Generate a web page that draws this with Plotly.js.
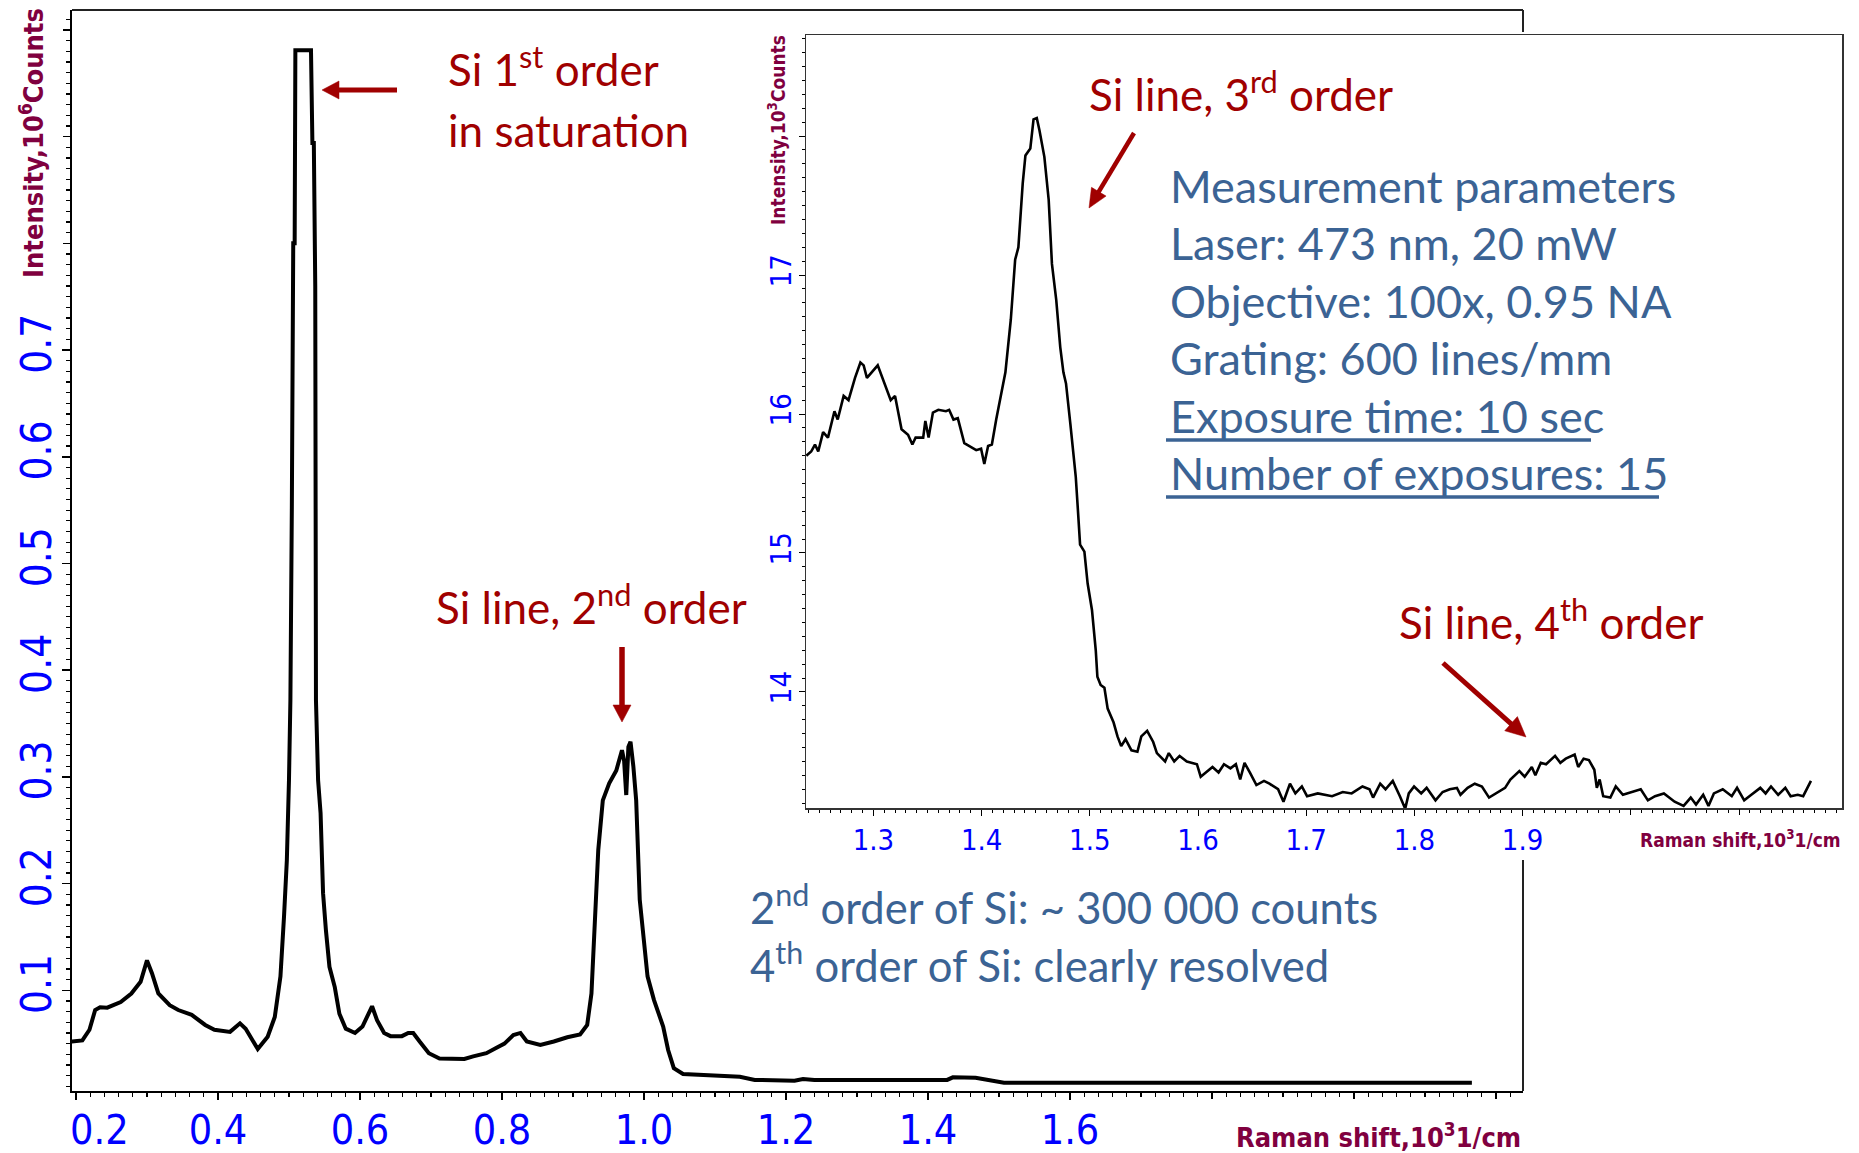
<!DOCTYPE html>
<html>
<head>
<meta charset="utf-8">
<script src="https://cdn.plot.ly/plotly-3.0.1.min.js"></script>
<style>
html,body{margin:0;padding:0;background:#fff;}
#chart{width:1859px;height:1153px;}
</style>
</head>
<body>
<div id="chart"></div>
<script>
// ---------------- DATA ----------------
// Full spectrum (main panel): Raman shift in 10^3 1/cm, intensity in 10^6 counts
const mainShift = [0.194,0.209,0.219,0.227,0.234,0.244,0.263,0.278,0.291,0.300,0.307,0.316,0.332,0.344,0.363,0.382,0.395,0.417,0.431,0.439,0.456,0.470,0.480,0.488,0.493,0.497,0.500,0.502,0.504,0.505,0.506,0.508,0.509,0.531,0.533,0.535,0.536,0.537,0.538,0.541,0.5445,0.548,0.552,0.557,0.5645,0.571,0.580,0.593,0.6035,0.610,0.617,0.624,0.634,0.643,0.659,0.668,0.675,0.684,0.697,0.712,0.747,0.7595,0.778,0.791,0.8035,0.816,0.826,0.835,0.854,0.873,0.892,0.910,0.920,0.926,0.931,0.9356,0.942,0.951,0.961,0.969,0.972,0.975,0.978,0.981,0.985,0.989,0.994,0.9985,1.005,1.014,1.027,1.034,1.042,1.055,1.079,1.135,1.156,1.212,1.224,1.240,1.427,1.435,1.467,1.491,1.507,2.166];
const mainIntensity = [0.052,0.053,0.063,0.0815,0.084,0.0837,0.089,0.097,0.108,0.128,0.116,0.097,0.086,0.0815,0.077,0.0675,0.063,0.061,0.069,0.064,0.045,0.0565,0.075,0.113,0.169,0.222,0.297,0.372,0.55,0.653,0.80,0.80,0.981,0.981,0.894,0.894,0.76,0.76,0.372,0.297,0.266,0.191,0.1565,0.122,0.103,0.078,0.064,0.060,0.066,0.075,0.085,0.072,0.060,0.057,0.057,0.060,0.060,0.052,0.041,0.036,0.0356,0.038,0.041,0.0456,0.050,0.058,0.060,0.052,0.0487,0.052,0.056,0.0587,0.0675,0.097,0.169,0.2315,0.278,0.294,0.306,0.325,0.315,0.283,0.328,0.333,0.310,0.278,0.185,0.153,0.113,0.091,0.066,0.044,0.027,0.0216,0.0206,0.019,0.016,0.0153,0.0169,0.016,0.016,0.0184,0.018,0.0153,0.0134,0.0134];

// Inset (zoom): Raman shift in 10^3 1/cm, intensity in 10^3 counts
const insetShift = [1.238,1.2425,1.246,1.249,1.2535,1.258,1.264,1.267,1.2725,1.277,1.283,1.288,1.291,1.294,1.304,1.310,1.316,1.320,1.326,1.332,1.336,1.339,1.346,1.348,1.351,1.355,1.360,1.367,1.370,1.374,1.378,1.384,1.3905,1.395,1.3995,1.4025,1.406,1.4095,1.4135,1.418,1.422,1.427,1.431,1.434,1.438,1.4405,1.445,1.448,1.451,1.4535,1.458,1.462,1.465,1.469,1.4727,1.4756,1.478,1.482,1.487,1.489,1.491,1.495,1.498,1.502,1.5055,1.507,1.510,1.5135,1.5165,1.522,1.5256,1.529,1.533,1.5385,1.544,1.5476,1.553,1.5586,1.562,1.5696,1.573,1.578,1.583,1.5897,1.599,1.6025,1.6134,1.619,1.624,1.630,1.635,1.639,1.643,1.648,1.654,1.661,1.666,1.674,1.679,1.685,1.690,1.696,1.7008,1.7107,1.7239,1.7338,1.742,1.752,1.7585,1.7618,1.7684,1.7733,1.780,1.7866,1.7915,1.7948,1.7997,1.8063,1.8113,1.8195,1.8261,1.8327,1.8393,1.8426,1.8492,1.8558,1.8624,1.869,1.8772,1.8838,1.8887,1.897,1.9019,1.9085,1.9118,1.9168,1.9217,1.930,1.9349,1.9399,1.9481,1.9514,1.9564,1.9613,1.9663,1.9686,1.9712,1.9745,1.9811,1.9861,1.9927,2.001,2.0092,2.0158,2.0224,2.0306,2.0405,2.0488,2.0554,2.0603,2.0669,2.0718,2.0768,2.085,2.0933,2.0982,2.1048,2.1114,2.1197,2.1246,2.1296,2.1362,2.1428,2.1477,2.1543,2.1593,2.1626,2.1665];
const insetIntensity = [15.70,15.73,15.78,15.73,15.87,15.83,16.02,15.96,16.13,16.10,16.26,16.37,16.35,16.26,16.35,16.23,16.10,16.13,15.89,15.85,15.78,15.83,15.83,15.95,15.83,16.01,16.03,16.02,16.03,15.96,15.97,15.79,15.76,15.74,15.75,15.64,15.77,15.78,15.96,16.15,16.30,16.68,17.11,17.20,17.66,17.86,17.91,18.12,18.13,18.04,17.85,17.54,17.08,16.82,16.48,16.30,16.22,15.93,15.55,15.31,15.06,15.01,14.78,14.59,14.30,14.11,14.05,14.03,13.88,13.78,13.68,13.61,13.66,13.58,13.57,13.68,13.72,13.64,13.56,13.50,13.56,13.50,13.54,13.50,13.48,13.39,13.46,13.42,13.48,13.45,13.48,13.37,13.49,13.42,13.33,13.36,13.34,13.30,13.21,13.34,13.27,13.32,13.25,13.27,13.25,13.28,13.27,13.32,13.30,13.24,13.34,13.30,13.36,13.25,13.16,13.27,13.32,13.27,13.31,13.22,13.28,13.30,13.31,13.26,13.31,13.34,13.32,13.24,13.28,13.31,13.37,13.43,13.39,13.46,13.40,13.49,13.48,13.54,13.49,13.52,13.55,13.46,13.52,13.51,13.44,13.31,13.37,13.25,13.24,13.32,13.26,13.28,13.30,13.22,13.25,13.27,13.21,13.18,13.24,13.19,13.26,13.18,13.27,13.30,13.25,13.31,13.22,13.26,13.31,13.27,13.32,13.26,13.31,13.25,13.26,13.25,13.30,13.36];

// Tick values and labels (labelled major ticks, plus unlabelled major ticks)
const mainXTicks = [0.2,0.4,0.6,0.8,1.0,1.2,1.4,1.6];
const mainXLabels = ['0.2','0.4','0.6','0.8','1.0','1.2','1.4','1.6'];
const mainXBareTicks = [1.8,2.0,2.2];
const mainYTicks = [0.1,0.2,0.3,0.4,0.5,0.6,0.7];
const mainYLabels = ['0.1','0.2','0.3','0.4','0.5','0.6','0.7'];
const mainYBareTicks = [0.8,0.9,1.0];
const insetXTicks = [1.3,1.4,1.5,1.6,1.7,1.8,1.9];
const insetXLabels = ['1.3','1.4','1.5','1.6','1.7','1.8','1.9'];
const insetXBareTicks = [2.0,2.1];
const insetYTicks = [14,15,16,17];
const insetYLabels = ['14','15','16','17'];
const insetYBareTicks = [18];

// Texts
const mainYTitle = 'Intensity,10<sup>6</sup>Counts';
const mainXTitle = 'Raman shift,10<sup>3</sup>1/cm';
const insetYTitle = 'Intensity,10<sup>3</sup>Counts';
const insetXTitle = 'Raman shift,10<sup>3</sup>1/cm';
const paramLines = ['Measurement parameters','Laser: 473 nm, 20 mW','Objective: 100x, 0.95 NA','Grating: 600 lines/mm','Exposure time: 10 sec','Number of exposures: 15'];
const noteLines = ['2<sup>nd</sup> order of Si: ~ 300 000 counts','4<sup>th</sup> order of Si: clearly resolved'];

// ---------------- STYLE ----------------
const W = 1859, H = 1153;
const px = x => x / W;
const py = y => 1 - y / H;
const RED = '#a00000';
const STEEL = '#3b6394';
const PURPLE = '#80003f';
const BLUE = '#0000ff';
const TICKFONT = 'DejaVu Sans Condensed, DejaVu Sans, sans-serif';
const TITLEFONT = 'DejaVu Sans Condensed, Liberation Sans, sans-serif';
const TXTFONT = 'Lato, Carlito, Calibri, sans-serif';

// main frame geometry (pixels)
const mL = 72, mR = 1523, mT = 10, mB = 1091;
// inset frame geometry
const iL = 806, iR = 1842, iT = 35, iB = 808;

const traces = [
  {x: mainShift, y: mainIntensity, type: 'scatter', mode: 'lines', xaxis: 'x', yaxis: 'y',
   line: {color: '#000', width: 4}, hoverinfo: 'skip', showlegend: false},
  {x: insetShift, y: insetIntensity, type: 'scatter', mode: 'lines', xaxis: 'x2', yaxis: 'y2',
   line: {color: '#000', width: 2.6}, hoverinfo: 'skip', showlegend: false}
];

const axBase = {showgrid: false, zeroline: false, showline: true, linecolor: '#000', ticks: 'outside', tickcolor: '#000', tickmode: 'array'};
const bare = {showgrid: false, zeroline: false, showline: false, ticks: 'outside', tickcolor: '#000', tickmode: 'array', showticklabels: false};

const mainXLabelsShown = mainXLabels.map((t, i) => i === 0 ? '\u00a0\u00a0\u00a0\u00a0' + t : t);
const mainXRange = [0.1944, 2.238], mainYRange = [0.0056, 1.0187];
const insetXRange = [1.2377, 2.1952], insetYRange = [13.165, 18.727];

const layout = {
  width: W, height: H,
  margin: {l: 0, r: 0, t: 0, b: 0},
  paper_bgcolor: '#fff', plot_bgcolor: 'rgba(0,0,0,0)',
  showlegend: false,
  xaxis: Object.assign({}, axBase, {
    domain: [px(mL), px(mR)], range: mainXRange, anchor: 'y',
    tickvals: mainXTicks, ticktext: mainXLabelsShown, linewidth: 2, ticklen: 7, tickwidth: 1.5,
    ticklabelstandoff: -5,
    tickfont: {family: TICKFONT, size: 41, color: BLUE},
    minor: {tickmode: 'linear', tick0: 0, dtick: 0.02, ticks: 'outside', ticklen: 4, tickwidth: 1.2, tickcolor: '#000'}
  }),
  yaxis: Object.assign({}, axBase, {
    domain: [py(mB), py(mT)], range: mainYRange, anchor: 'x',
    tickvals: mainYTicks, ticktext: mainYLabels, linewidth: 2, ticklen: 8, tickwidth: 1.5, tickangle: -90,
    ticklabelstandoff: -6,
    tickfont: {family: TICKFONT, size: 42, color: BLUE},
    minor: {tickmode: 'linear', tick0: 0, dtick: 0.01, ticks: 'outside', ticklen: 4, tickwidth: 1.2, tickcolor: '#000'}
  }),
  xaxis2: Object.assign({}, axBase, {
    domain: [px(iL), px(iR)], range: insetXRange, anchor: 'y2',
    tickvals: insetXTicks, ticktext: insetXLabels, linewidth: 1.5, linecolor: '#333', mirror: true, ticklen: 6, tickwidth: 1,
    tickfont: {family: TICKFONT, size: 29, color: BLUE},
    minor: {tickmode: 'linear', tick0: 0, dtick: 0.01, ticks: 'outside', ticklen: 3, tickwidth: 1, tickcolor: '#000'}
  }),
  yaxis2: Object.assign({}, axBase, {
    domain: [py(iB), py(iT)], range: insetYRange, anchor: 'x2',
    tickvals: insetYTicks, ticktext: insetYLabels, linewidth: 1.5, linecolor: '#333', mirror: true, ticklen: 6, tickwidth: 1, tickangle: -90,
    ticklabelstandoff: -4,
    tickfont: {family: TICKFONT, size: 29, color: BLUE},
    minor: {tickmode: 'linear', tick0: 0, dtick: 0.1, ticks: 'outside', ticklen: 3, tickwidth: 1, tickcolor: '#000'}
  }),
  // overlay axes carrying the unlabelled major ticks
  xaxis3: Object.assign({}, bare, {overlaying: 'x', anchor: 'y', side: 'bottom', range: mainXRange, tickvals: mainXBareTicks, ticklen: 7, tickwidth: 1.5}),
  yaxis3: Object.assign({}, bare, {overlaying: 'y', anchor: 'x', side: 'left', range: mainYRange, tickvals: mainYBareTicks, ticklen: 8, tickwidth: 1.5}),
  xaxis4: Object.assign({}, bare, {overlaying: 'x2', anchor: 'y2', side: 'bottom', range: insetXRange, tickvals: insetXBareTicks, ticklen: 6, tickwidth: 1}),
  yaxis4: Object.assign({}, bare, {overlaying: 'y2', anchor: 'x2', side: 'left', range: insetYRange, tickvals: insetYBareTicks, ticklen: 6, tickwidth: 1}),
  shapes: [
    // main frame top and right borders (right border hidden behind inset)
    {type: 'line', xref: 'paper', yref: 'paper', x0: px(mL), x1: px(mR), y0: py(mT), y1: py(mT), line: {color: '#222', width: 2}},
    {type: 'line', xref: 'paper', yref: 'paper', x0: px(mR), x1: px(mR), y0: py(mT), y1: py(32), line: {color: '#222', width: 2}},
    {type: 'line', xref: 'paper', yref: 'paper', x0: px(mR), x1: px(mR), y0: py(860), y1: py(mB), line: {color: '#222', width: 2}},
    // underlines of the last two parameter lines
    {type: 'line', xref: 'paper', yref: 'paper', x0: px(1166), x1: px(1591), y0: py(440), y1: py(440), line: {color: STEEL, width: 3.5}},
    {type: 'line', xref: 'paper', yref: 'paper', x0: px(1166), x1: px(1659), y0: py(497), y1: py(497), line: {color: STEEL, width: 3.5}}
  ],
  annotations: []
};

// empty traces so the overlay axes have subplots to live on
traces.push({x: [], y: [], type: 'scatter', mode: 'lines', xaxis: 'x3', yaxis: 'y3', hoverinfo: 'skip', showlegend: false});
traces.push({x: [], y: [], type: 'scatter', mode: 'lines', xaxis: 'x4', yaxis: 'y4', hoverinfo: 'skip', showlegend: false});

const A = layout.annotations;
// axis titles
A.push({text: '<b>' + mainYTitle + '</b>', xref: 'paper', yref: 'paper', x: px(31), y: py(143), textangle: -90, showarrow: false,
  font: {family: TITLEFONT, size: 27, color: PURPLE}, xanchor: 'center', yanchor: 'middle'});
A.push({text: '<b>' + mainXTitle + '</b>', xref: 'paper', yref: 'paper', x: px(1523), y: py(1135), showarrow: false,
  font: {family: TITLEFONT, size: 27, color: PURPLE}, xanchor: 'right', yanchor: 'middle'});
A.push({text: '<b>' + insetYTitle + '</b>', xref: 'paper', yref: 'paper', x: px(777), y: py(130), textangle: -90, showarrow: false,
  font: {family: TITLEFONT, size: 19, color: PURPLE}, xanchor: 'center', yanchor: 'middle'});
A.push({text: '<b>' + insetXTitle + '</b>', xref: 'paper', yref: 'paper', x: px(1843), y: py(839), showarrow: false,
  font: {family: TITLEFONT, size: 19, color: PURPLE}, xanchor: 'right', yanchor: 'middle'});

// helper for text placed by left edge and baseline
function txt(t, left, baseline, size, color) {
  const sup = t.indexOf('<sup>') >= 0 ? 0.12 : 0;
  A.push({text: t, xref: 'paper', yref: 'paper', x: px(left), y: py(baseline - (0.35 + sup) * size), showarrow: false,
    xanchor: 'left', yanchor: 'middle', font: {family: TXTFONT, size: size, color: color}});
}
// arrow drawn as a shaft line plus a filled triangular head (pixel geometry -> paper coords)
function arrow(tipX, tipY, tailX, tailY, width, headLen, headHalf) {
  const dx = tipX - tailX, dy = tipY - tailY, L = Math.hypot(dx, dy);
  const ux = dx / L, uy = dy / L, nx = -uy, ny = ux;
  const bx = tipX - ux * headLen, by = tipY - uy * headLen;
  layout.shapes.push({type: 'line', xref: 'paper', yref: 'paper', x0: px(tailX), y0: py(tailY), x1: px(bx + ux * 2), y1: py(by + uy * 2),
    line: {color: RED, width: width}});
  const p = [[tipX, tipY], [bx + nx * headHalf, by + ny * headHalf], [bx - nx * headHalf, by - ny * headHalf]];
  layout.shapes.push({type: 'path', xref: 'paper', yref: 'paper',
    path: 'M' + p.map(q => px(q[0]) + ',' + py(q[1])).join(' L') + ' Z',
    fillcolor: RED, line: {color: RED, width: 0.5}});
}

txt('Si 1<sup>st</sup> order', 446, 87, 44, RED);
txt('in saturation', 446, 145, 44, RED);
arrow(322, 90, 397, 90, 5, 17, 9);
txt('Si line, 2<sup>nd</sup> order', 434, 625, 44, RED);
arrow(622, 722, 622, 647, 5.5, 17, 9);
txt('Si line, 3<sup>rd</sup> order', 1087, 112, 44, RED);
arrow(1089, 208, 1134, 133, 4.5, 19, 8.5);
txt('Si line, 4<sup>th</sup> order', 1397, 640, 44, RED);
arrow(1526, 737, 1443, 663, 5, 20, 9.5);

const paramBase = [202, 259, 317, 374, 432, 489];
paramLines.forEach((t, i) => txt(t, 1168, paramBase[i], 45, STEEL));
txt(noteLines[0], 748, 925, 43.6, STEEL);
txt(noteLines[1], 748, 983, 43.6, STEEL);

Plotly.newPlot('chart', traces, layout, {staticPlot: true, displayModeBar: false});
</script>
</body>
</html>
